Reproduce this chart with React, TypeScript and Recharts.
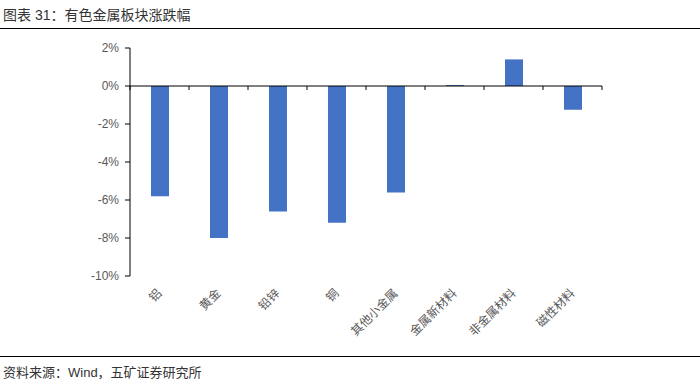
import { BarChart, Bar, XAxis, YAxis, ReferenceLine } from "recharts";

const categories = ["铝", "黄金", "铅锌", "铜", "其他小金属", "金属新材料", "非金属材料", "磁性材料"];
const changes = [-5.8, -8.0, -6.6, -7.2, -5.6, 0.05, 1.4, -1.25];
const yTicks = [-10, -8, -6, -4, -2, 0, 2];

const rows = categories.map((name, i) => ({ name, value: changes[i] }));

const grey = "#595959";
const cjk = '"Noto Sans CJK SC", "Liberation Sans", sans-serif';
const latinFirst = '"Liberation Sans", "Noto Sans CJK SC", sans-serif';

function CatTick(props: any) {
  const { x, y, payload } = props;
  return (
    <g transform={`translate(${x + 3},${y + 16})`}>
      <text transform="rotate(-45)" textAnchor="end" fill={grey} fontSize={12} fontFamily={cjk}>
        {payload.value}
      </text>
    </g>
  );
}

// zero line drawn as the category axis, with marks between categories
function ZeroAxis(props: any) {
  const { x1, y1, x2 } = props;
  const n = categories.length;
  const marks = [];
  for (let i = 0; i <= n; i++) {
    const x = x1 + ((x2 - x1) * i) / n;
    marks.push(<line key={i} x1={x} y1={y1} x2={x} y2={y1 + 4} stroke="#000" />);
  }
  return (
    <g>
      <line x1={x1} y1={y1} x2={x2} y2={y1} stroke="#000" />
      {marks}
    </g>
  );
}

export default function App() {
  return (
    <div style={{ width: 700, height: 386, position: "relative", background: "#fff", fontFamily: cjk }}>
      <style>{`body{margin:0}`}</style>
      <div style={{ position: "absolute", left: 3, top: 4, fontSize: 14, color: "#333", fontFamily: latinFirst }}>
        图表 31：有色金属板块涨跌幅
      </div>
      <div style={{ position: "absolute", left: 0, top: 28, width: 700, borderTop: "1px solid #000" }} />
      <div style={{ position: "absolute", left: 0, top: 30 }}>
        <BarChart
          width={700}
          height={325}
          data={rows}
          margin={{ top: 18, right: 98, left: 0, bottom: 0 }}
        >
          <XAxis
            dataKey="name"
            axisLine={false}
            tickLine={false}
            tickSize={0}
            height={79}
            interval={0}
            tick={<CatTick />}
          />
          <YAxis
            domain={[-10, 2]}
            ticks={yTicks}
            width={130}
            axisLine={{ stroke: "#000" }}
            tickLine={{ stroke: "#000" }}
            tickSize={5}
            tickMargin={6}
            tickFormatter={(v: number) => `${v}%`}
            tick={{ fill: grey, fontSize: 12, fontFamily: '"Liberation Sans", sans-serif' }}
          />
          <Bar dataKey="value" fill="#4472C4" barSize={18} isAnimationActive={false} />
          <ReferenceLine y={0} shape={<ZeroAxis />} />
        </BarChart>
      </div>
      <div style={{ position: "absolute", left: 0, top: 356, width: 700, borderTop: "1px solid #000" }} />
      <div style={{ position: "absolute", left: 3, top: 362, fontSize: 13, color: "#333", fontFamily: latinFirst }}>
        资料来源：Wind，五矿证券研究所
      </div>
    </div>
  );
}
